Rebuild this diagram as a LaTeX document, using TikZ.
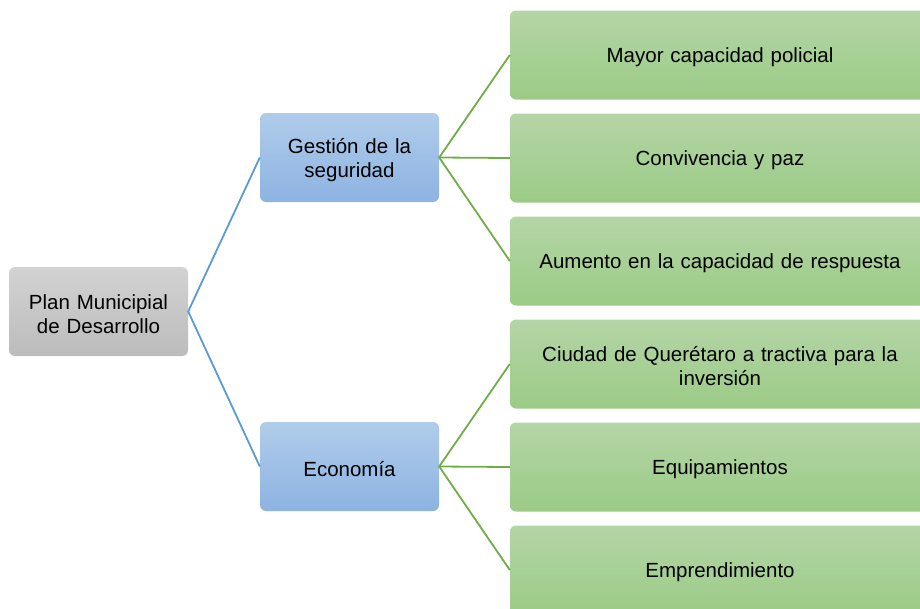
\documentclass[tikz,border=0pt]{standalone}
\usepackage{fontspec}
\setmainfont{Liberation Sans}
\begin{document}
\begin{tikzpicture}[x=1pt,y=-1pt,
  box/.style={rounded corners=6pt, inner sep=0pt},
  lab/.style={align=center, inner sep=0pt, font=\fontsize{20.5}{24}\selectfont, yshift=-2.5pt, text width=#1},
  graybox/.style={box, top color=gray0, bottom color=gray1, minimum width=179pt, minimum height=89pt},
  bluebox/.style={box, top color=blue0, bottom color=blue1, minimum width=179pt, minimum height=89pt},
  greenbox/.style={box, top color=green0, bottom color=green1, minimum width=420pt, minimum height=89pt},
  stxt/.style={label={[lab=175pt]center:{#1}}},
  wtxt/.style={label={[lab=410pt]center:{#1}}},
  blueline/.style={draw=blueL, line width=1.8pt},
  greenline/.style={draw=greenL, line width=1.8pt}]
\definecolor{gray0}{HTML}{D2D2D2}
\definecolor{gray1}{HTML}{BCBCBC}
\definecolor{blue0}{HTML}{B0CCEA}
\definecolor{blue1}{HTML}{8DB3E2}
\definecolor{green0}{HTML}{B4D5A6}
\definecolor{green1}{HTML}{9BCB86}
\definecolor{blueL}{HTML}{5B9BD5}
\definecolor{greenL}{HTML}{70AD47}
\useasboundingbox (0,0) rectangle (920,608);
\clip (0,0) rectangle (920,608);
\node[graybox, stxt={Plan Municipial\\de Desarrollo}] (plan) at (98.5,311.5) {};
\node[bluebox, stxt={Gestión de la\\seguridad}] (ges) at (349.5,157.5) {};
\node[bluebox, stxt={Economía}] (eco) at (349.5,466.5) {};
\node[greenbox, wtxt={Mayor capacidad policial}] (g1) at (720,55) {};
\node[greenbox, wtxt={Convivencia y paz}] (g2) at (720,158) {};
\node[greenbox, wtxt={Aumento en la capacidad de respuesta}] (g3) at (720,261) {};
\node[greenbox, wtxt={Ciudad de Querétaro a tractiva para la\\inversión}] (g4) at (720,364) {};
\node[greenbox, wtxt={Equipamientos}] (g5) at (720,467) {};
\node[greenbox, wtxt={Emprendimiento}] (g6) at (720,570) {};
\draw[blueline] (ges.west) -- (plan.east) -- (eco.west);
\draw[greenline] (g1.west) -- (ges.east) -- (g3.west);
\draw[greenline] (ges.east) -- (g2.west);
\draw[greenline] (g4.west) -- (eco.east) -- (g6.west);
\draw[greenline] (eco.east) -- (g5.west);
\end{tikzpicture}
\end{document}
